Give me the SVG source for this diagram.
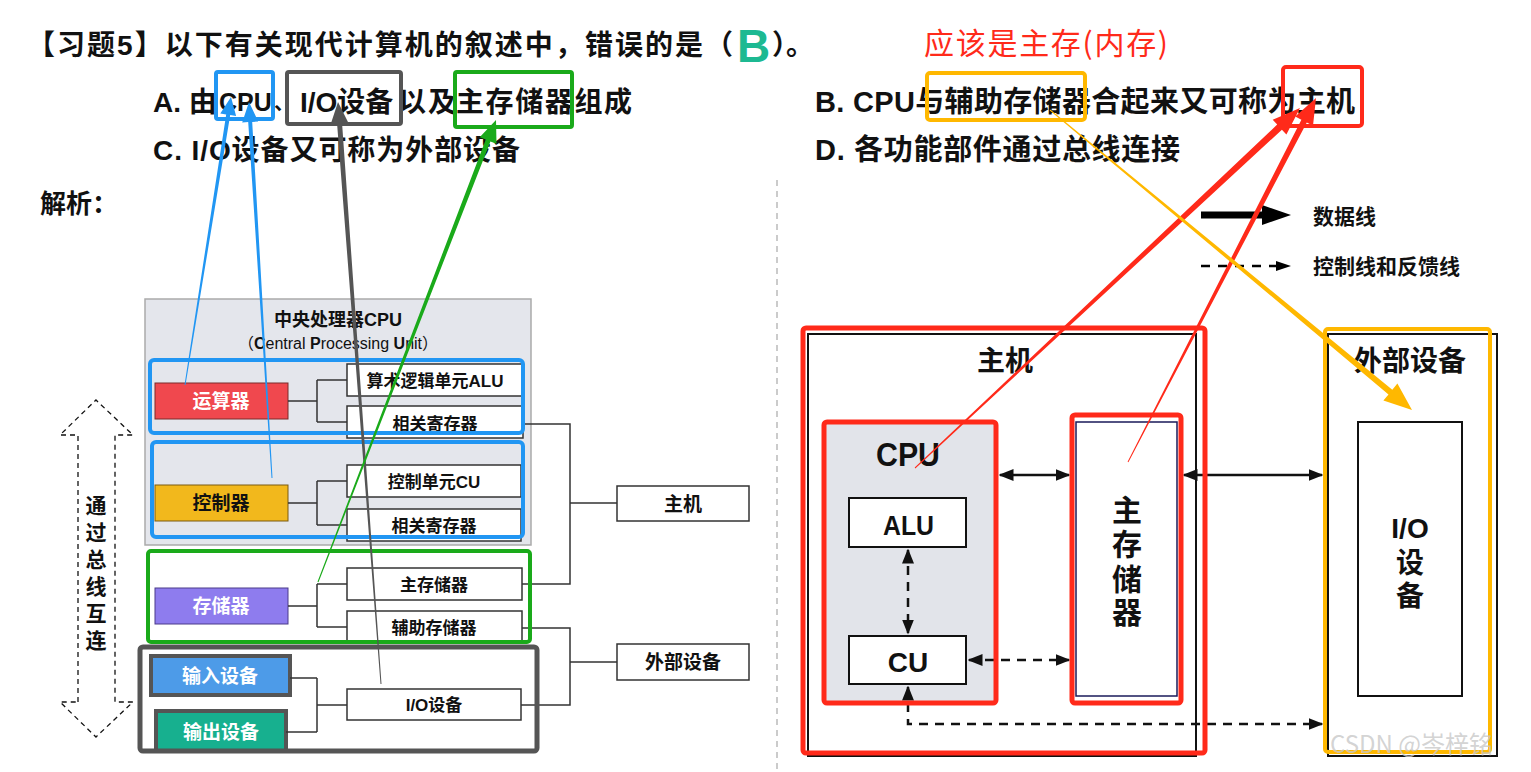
<svg xmlns="http://www.w3.org/2000/svg" width="1531" height="772" viewBox="0 0 1531 772">
<defs>
<style>
.t{font-family:"Liberation Sans Narrow","Liberation Sans","Noto Sans CJK SC",sans-serif;font-weight:bold;fill:#111}
.c{text-anchor:middle}
.box{fill:#fff;stroke:#333;stroke-width:1.5}
.ln{fill:none;stroke:#333;stroke-width:1.5}
.blk{fill:none;stroke:#111;stroke-width:2}
</style>
<marker id="ah" viewBox="0 0 10 10" refX="9" refY="5" markerWidth="6" markerHeight="6" orient="auto-start-reverse" markerUnits="strokeWidth"><path d="M0,1 L10,5 L0,9 z" fill="#111"/></marker>
</defs>
<rect width="1531" height="772" fill="#fff"/>

<!-- header texts -->
<g id="question">
<text class="t" x="27" y="55" font-size="28" textLength="706">【习题5】以下有关现代计算机的叙述中，错误的是（</text>
<text x="737" y="62" font-family="Liberation Sans, sans-serif" font-weight="bold" font-size="46" fill="#1db992">B</text>
<text class="t" x="772" y="55" font-size="28">）。</text>
<text x="924" y="54" font-family="Noto Sans CJK SC, sans-serif" font-size="30" fill="#ff2a1a" textLength="244">应该是主存(内存)</text>
</g>
<g id="optA">
<text class="t" x="153" y="112" font-size="28">A. 由</text>
<text class="t" x="219" y="111" font-size="25">CPU</text>
<text class="t" x="274" y="110" font-size="20">、</text>
<text class="t" x="300" y="112" font-size="28">I/O设备</text>
<text class="t" x="398" y="112" font-size="28" textLength="58">以及</text>
<text class="t" x="456" y="112" font-size="28" textLength="176">主存储器组成</text>
</g>
<g id="optC"><text class="t" x="153" y="160" font-size="28" textLength="367">C. I/O设备又可称为外部设备</text></g>
<g id="optB"><text class="t" x="815" y="112" font-size="29" textLength="540">B. CPU与辅助存储器合起来又可称为主机</text></g>
<g id="optD"><text class="t" x="815" y="160" font-size="29" textLength="365">D. 各功能部件通过总线连接</text></g>
<g id="jiexi"><text class="t" x="40" y="213" font-size="26">解析：</text></g>

<!-- highlight boxes on options -->
<g id="hl-cpu"><rect x="216" y="72" width="57" height="47" rx="2" fill="none" stroke="#2196f3" stroke-width="4"/></g>
<g id="hl-io"><rect x="287" y="72" width="114" height="52" rx="2" fill="none" stroke="#555" stroke-width="4"/></g>
<g id="hl-main"><rect x="455" y="72" width="117" height="55" rx="2" fill="none" stroke="#1aaa1a" stroke-width="4"/></g>
<g id="hl-aux"><rect x="927" y="73" width="158" height="47" rx="3" fill="none" stroke="#ffb800" stroke-width="4"/></g>
<g id="hl-host"><rect x="1283" y="67" width="79" height="59" rx="3" fill="none" stroke="#ff2a1a" stroke-width="4"/></g>

<line x1="777" y1="180" x2="777" y2="772" stroke="#bbb" stroke-width="1.5" stroke-dasharray="6 5"/>

<!-- LEFT DIAGRAM -->
<g id="cpu-panel">
<rect x="145" y="299" width="386" height="246" fill="#e4e6ec" stroke="#aaa" stroke-width="1.5"/>
<text class="t c" x="338" y="326" font-size="18">中央处理器CPU</text>
<text class="c" x="338" y="349" font-size="16" font-family="Liberation Sans, Noto Sans CJK SC, sans-serif" fill="#111">（<tspan font-weight="bold">C</tspan>entral <tspan font-weight="bold">P</tspan>rocessing <tspan font-weight="bold">U</tspan>nit）</text>
</g>
<g id="alu-sub"><rect class="box" x="347" y="364" width="176" height="32"/><text class="t c" x="435" y="387" font-size="17">算术逻辑单元ALU</text></g>
<g id="reg1"><rect class="box" x="347" y="406" width="176" height="32"/><text class="t c" x="435" y="430" font-size="17">相关寄存器</text></g>
<g id="cu-sub"><rect class="box" x="347" y="465" width="174" height="32"/><text class="t c" x="434" y="488" font-size="17">控制单元CU</text></g>
<g id="reg2"><rect class="box" x="347" y="509" width="174" height="32"/><text class="t c" x="434" y="532" font-size="17">相关寄存器</text></g>
<g id="mainmem-sub"><rect class="box" x="347" y="568" width="175" height="32"/><text class="t c" x="434" y="591" font-size="17">主存储器</text></g>
<g id="auxmem-sub"><rect class="box" x="347" y="611" width="175" height="32"/><text class="t c" x="434" y="634" font-size="17">辅助存储器</text></g>
<g id="io-sub"><rect class="box" x="347" y="689" width="174" height="31"/><text class="t c" x="434" y="711" font-size="17">I/O设备</text></g>
<g id="alu-unit"><rect x="155" y="383" width="133" height="36" fill="#f0484e" stroke="#7a2a2a" stroke-width="1"/><text class="t c" x="221" y="408" font-size="19" style="fill:#fff">运算器</text></g>
<g id="ctrl-unit"><rect x="155" y="485" width="133" height="36" fill="#f2b81c" stroke="#7a5a10" stroke-width="1"/><text class="t c" x="221" y="510" font-size="19">控制器</text></g>
<g id="mem-unit"><rect x="155" y="588" width="133" height="36" fill="#8e7cee" stroke="#4a3a8a" stroke-width="1"/><text class="t c" x="221" y="613" font-size="19" style="fill:#fff">存储器</text></g>
<g id="in-unit"><rect x="151" y="656" width="139" height="39" fill="#4d9be8" stroke="#555" stroke-width="4"/><text class="t c" x="220" y="683" font-size="19" style="fill:#fff">输入设备</text></g>
<g id="out-unit"><rect x="156" y="711" width="130" height="40" fill="#17b08f" stroke="#555" stroke-width="4"/><text class="t c" x="221" y="739" font-size="19" style="fill:#fff">输出设备</text></g>
<g id="host-l"><rect class="box" x="617" y="486" width="132" height="35"/><text class="t c" x="683" y="511" font-size="19">主机</text></g>
<g id="ext-l"><rect class="box" x="617" y="644" width="132" height="36"/><text class="t c" x="683" y="669" font-size="19">外部设备</text></g>

<g id="left-connectors">
<path class="ln" d="M288,401 H317 M317,380 V422 M317,380 H347 M317,422 H347"/>
<path class="ln" d="M288,503 H317 M317,481 V525 M317,481 H347 M317,525 H347"/>
<path class="ln" d="M288,606 H317 M317,584 V627 M317,584 H347 M317,627 H347"/>
<path class="ln" d="M290,678 H317 M286,732 H317 M317,678 V732 M317,705 H347"/>
<path class="ln" d="M523,424 H570 V584 H522 M570,503 H617"/>
<path class="ln" d="M522,628 H570 V705 H521 M570,662 H617"/>
</g>

<g id="groups">
<rect x="150" y="360" width="373" height="73" rx="4" fill="none" stroke="#2196f3" stroke-width="4"/>
<rect x="152" y="442" width="371" height="95" rx="4" fill="none" stroke="#2196f3" stroke-width="4"/>
<rect x="148" y="551" width="382" height="91" rx="3" fill="none" stroke="#1aaa1a" stroke-width="4"/>
<rect x="140" y="647" width="397" height="104" rx="3" fill="none" stroke="#555" stroke-width="5"/>
</g>

<g id="bus">
<path d="M78,702 V435 H60 L96,400 L133,435 H115 V702 H133 L96,737 L60,702 Z" fill="#fff" stroke="#111" stroke-width="1.3" stroke-dasharray="5 4"/>
<text class="t c" font-size="21" x="96"><tspan x="96" y="513">通</tspan><tspan x="96" y="540">过</tspan><tspan x="96" y="567">总</tspan><tspan x="96" y="594">线</tspan><tspan x="96" y="621">互</tspan><tspan x="96" y="648">连</tspan></text>
</g>

<!-- RIGHT DIAGRAM -->
<g id="legend">
<path d="M1201,215 H1264" stroke="#000" stroke-width="7"/>
<path d="M1262,205 L1291,215 L1262,225 Z" fill="#000"/>
<text class="t" x="1313" y="224" font-size="21">数据线</text>
<path d="M1201,266 H1278" stroke="#000" stroke-width="2.5" stroke-dasharray="9 8"/>
<path d="M1276,261 L1291,266 L1276,271 Z" fill="#000"/>
<text class="t" x="1313" y="274" font-size="21">控制线和反馈线</text>
</g>
<g id="host-r">
<rect class="blk" x="808" y="334" width="388" height="422"/>
<text class="t c" x="1005" y="371" font-size="28">主机</text>
</g>
<g id="ext-r">
<rect class="blk" x="1328" y="334" width="169" height="422"/>
<text class="t c" x="1410" y="371" font-size="28">外部设备</text>
</g>
<g id="io-r">
<rect class="blk" x="1358" y="422" width="104" height="274" fill="#fff"/>
<text class="t c" x="1410" y="538" font-size="28">I/O</text>
<text class="t c" x="1410" y="573" font-size="28">设</text>
<text class="t c" x="1410" y="606" font-size="28">备</text>
</g>
<g id="cpu-r">
<rect x="824" y="422" width="172" height="281" fill="#e2e4ea"/>
<text class="t" x="876" y="466" font-size="34" textLength="64" lengthAdjust="spacingAndGlyphs">CPU</text>
</g>
<g id="alu-r"><rect x="849" y="498" width="117" height="49" fill="#fff" stroke="#111" stroke-width="2"/><text class="t" x="883" y="535" font-size="28" textLength="51" lengthAdjust="spacingAndGlyphs">ALU</text></g>
<g id="cu-r"><rect x="849" y="636" width="117" height="48" fill="#fff" stroke="#111" stroke-width="2"/><text class="t c" x="908" y="672" font-size="28">CU</text></g>
<g id="mem-r">
<rect x="1076" y="422" width="101" height="274" fill="#fff" stroke="#1a1a5a" stroke-width="1.5"/>
<text class="t c" x="1127" y="521" font-size="30">主</text>
<text class="t c" x="1127" y="555" font-size="30">存</text>
<text class="t c" x="1127" y="590" font-size="30">储</text>
<text class="t c" x="1127" y="623" font-size="30">器</text>
</g>
<g id="right-connectors">
<line x1="1000" y1="475" x2="1069" y2="475" stroke="#111" stroke-width="2.5" marker-start="url(#ah)" marker-end="url(#ah)"/>
<line x1="1184" y1="475" x2="1322" y2="475" stroke="#111" stroke-width="2.5" marker-start="url(#ah)" marker-end="url(#ah)"/>
<line x1="908" y1="550" x2="908" y2="633" stroke="#111" stroke-width="2.5" stroke-dasharray="9 7" marker-start="url(#ah)" marker-end="url(#ah)"/>
<line x1="969" y1="660" x2="1069" y2="660" stroke="#111" stroke-width="2.5" stroke-dasharray="9 7" marker-start="url(#ah)" marker-end="url(#ah)"/>
<path d="M908,687 V724 H1322" fill="none" stroke="#111" stroke-width="2.5" stroke-dasharray="9 7" marker-start="url(#ah)" marker-end="url(#ah)"/>
</g>
<g id="hl-right">
<rect x="803" y="328" width="402" height="425" rx="3" fill="none" stroke="#ff2a1a" stroke-width="5"/>
<rect x="824" y="422" width="172" height="281" rx="3" fill="none" stroke="#ff2a1a" stroke-width="5"/>
<rect x="1072" y="415" width="109" height="288" rx="3" fill="none" stroke="#ff2a1a" stroke-width="5"/>
<rect x="1325" y="329" width="165" height="423" rx="3" fill="none" stroke="#ffb800" stroke-width="4"/>
</g>

<!-- annotation arrows -->
<g id="annot-arrows">
<polygon fill="#2196f3" points="185.5,385.1 184.5,384.9 226.2,114.5 220.3,113.5 231,97 236.1,116.1 230.2,115.1"/>
<polygon fill="#2196f3" points="272.5,478 271.5,478 248.2,122.1 242.2,122.5 249,102 258.2,121.5 252.2,121.9"/>
<polygon fill="#555" points="381.5,684 380.5,684 337.1,124.1 330.6,124.6 338,102 348.6,123.2 342.1,123.7"/>
<polygon fill="#1aaa1a" points="318.5,582.2 317.5,581.8 485.8,139.6 479.7,137.3 496,120 496.5,143.7 490.4,141.4"/>
<polygon fill="#ff2a1a" points="915.3,468.4 914.7,467.6 1277.2,124.6 1272.7,119.8 1300,108 1286.4,134.4 1281.9,129.7"/>
<polygon fill="#ff2a1a" points="1128.4,462.2 1127.6,461.8 1301.4,119.7 1295.2,116.5 1316,98 1313,125.7 1306.8,122.5"/>
<polygon fill="#ffb800" points="1049.7,110.4 1050.3,109.6 1392.3,389.8 1397.4,383.6 1412,410 1383.4,400.6 1388.5,394.4"/>
</g>

<text x="1330" y="753" font-family="Noto Sans CJK SC, sans-serif" font-size="24" fill="#c8c8c8" fill-opacity="0.8">CSDN @岑梓铭</text>
</svg>
